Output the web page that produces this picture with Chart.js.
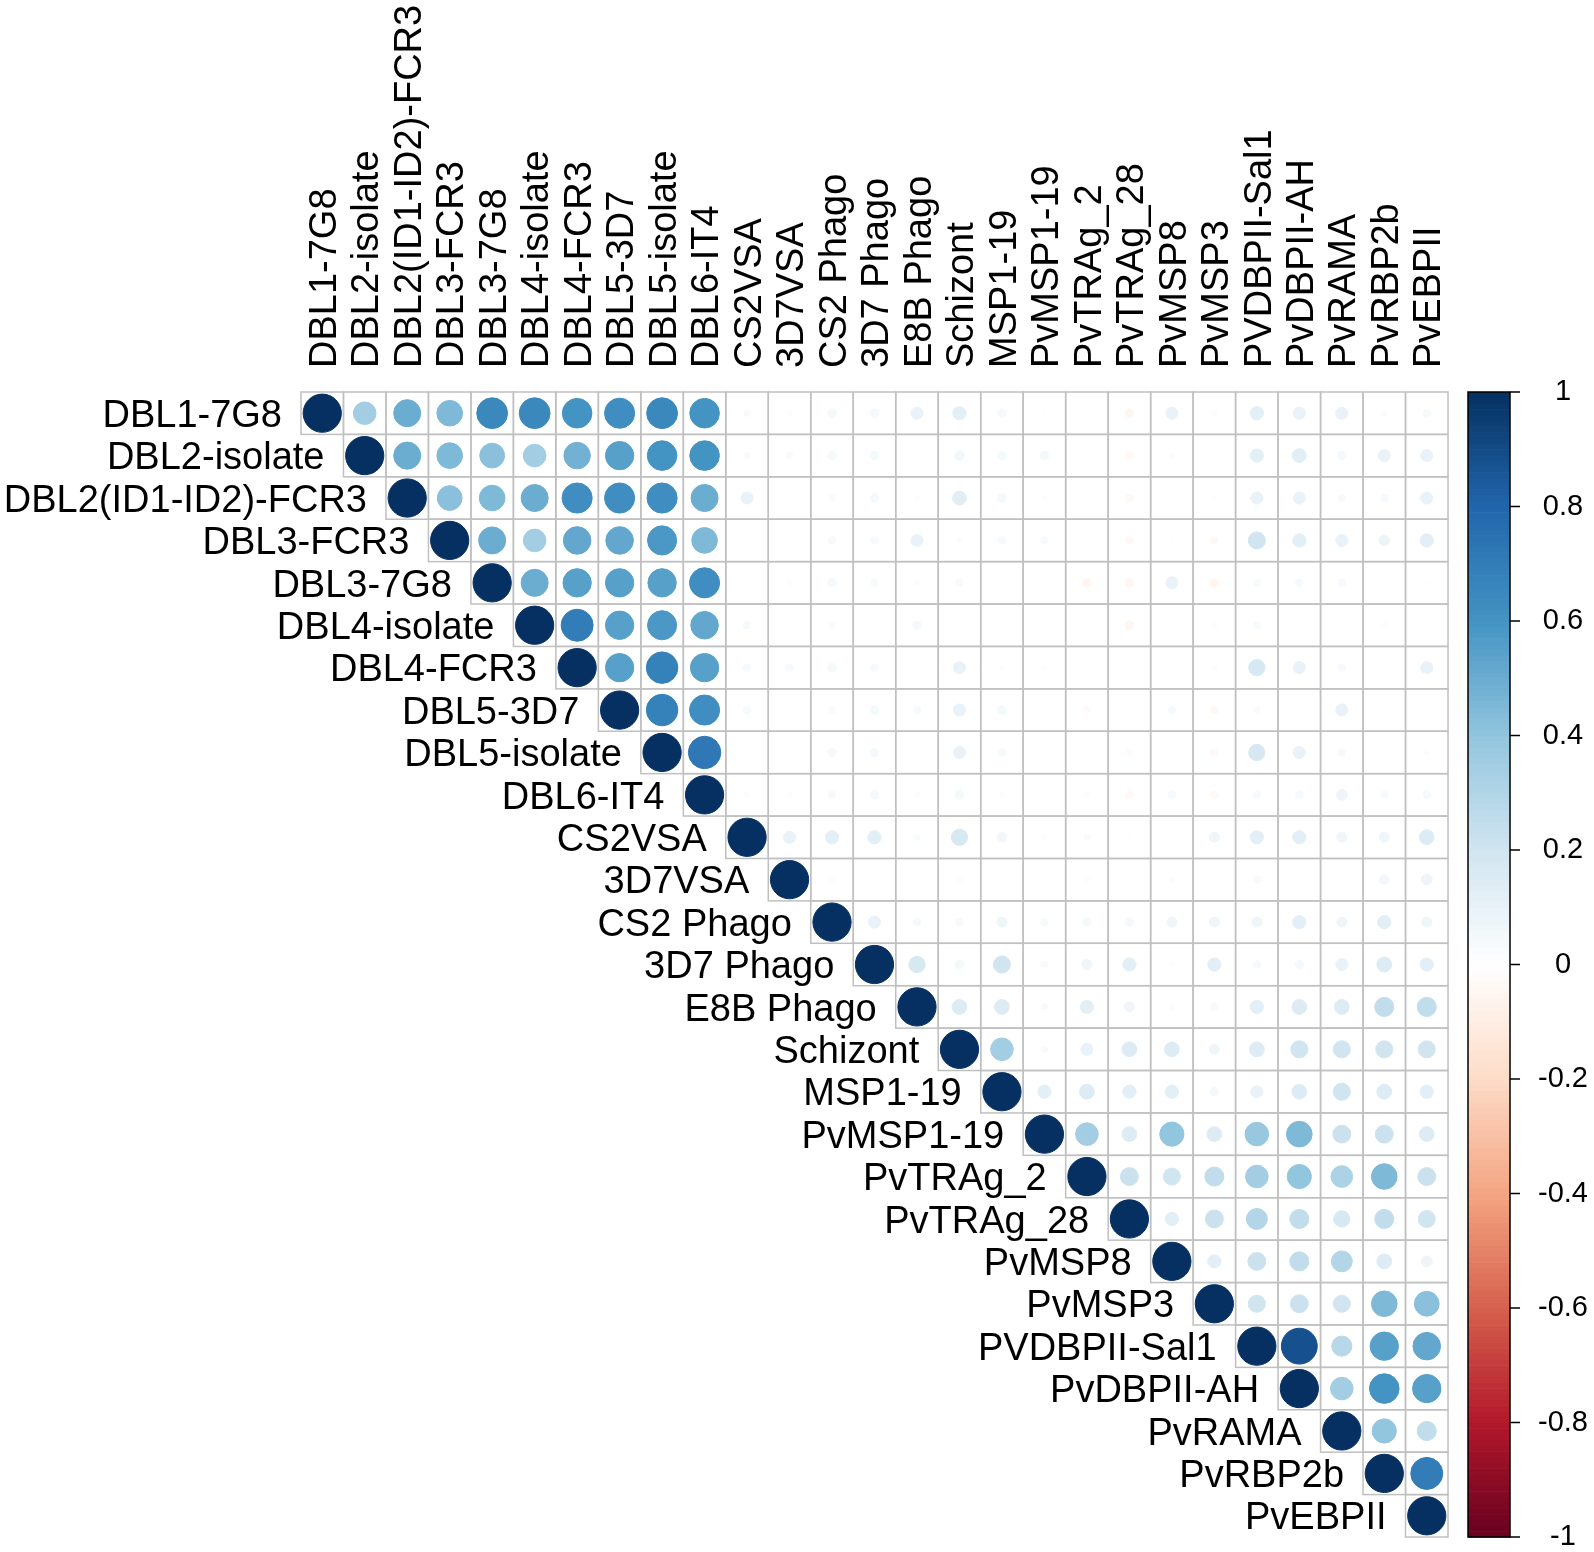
<!DOCTYPE html>
<html>
<head>
<meta charset="utf-8">
<script src="https://cdn.jsdelivr.net/npm/chart.js@4.4.0/dist/chart.umd.min.js"></script>
<style>
html,body{margin:0;padding:0;background:#fff;}
#wrap{width:1594px;height:1552px;}
</style>
</head>
<body>
<div id="wrap"><canvas id="corr" width="1594" height="1552"></canvas></div>
<script>
/* ================= DATA ================= */
const vars=["DBL1-7G8","DBL2-isolate","DBL2(ID1-ID2)-FCR3","DBL3-FCR3","DBL3-7G8","DBL4-isolate","DBL4-FCR3","DBL5-3D7","DBL5-isolate","DBL6-IT4","CS2VSA","3D7VSA","CS2 Phago","3D7 Phago","E8B Phago","Schizont","MSP1-19","PvMSP1-19","PvTRAg_2","PvTRAg_28","PvMSP8","PvMSP3","PVDBPII-Sal1","PvDBPII-AH","PvRAMA","PvRBP2b","PvEBPII"];

/* upper triangle, each row starts right after the diagonal */
const upperRows=[
[0.35,0.5,0.45,0.65,0.65,0.6,0.62,0.65,0.6,0.03,0.02,0.05,0.05,0.1,0.12,0.05,0.01,0.01,-0.05,0.1,-0.02,0.12,0.1,0.1,0.02,0.04],
[0.5,0.45,0.42,0.35,0.48,0.55,0.6,0.6,0.03,0.03,0.05,0.05,0.01,0.06,0.05,0.05,0.01,-0.04,0.02,0.01,0.12,0.13,0.05,0.1,0.1],
[0.42,0.45,0.5,0.62,0.62,0.62,0.5,0.1,0.01,0.03,0.05,0.02,0.13,0.05,0.02,0.01,-0.04,0.01,-0.01,0.1,0.1,0.04,0.04,0.1],
[0.5,0.35,0.52,0.52,0.58,0.45,0.01,0.01,0.04,0.04,0.1,0.02,0.04,0.04,0.01,-0.04,0.01,-0.04,0.2,0.12,0.1,0.08,0.12],
[0.5,0.55,0.55,0.55,0.62,0.01,0.02,0.05,0.04,0.02,0.04,0.01,0.01,-0.05,-0.05,0.1,-0.05,0.04,0.04,0.04,0.01,0.01],
[0.7,0.55,0.58,0.52,0.04,0.01,0.03,0.01,0.05,0.01,0,0,0.01,-0.05,0.01,-0.02,0.04,0.01,0.01,-0.02,0],
[0.55,0.68,0.55,0.04,0.04,0.05,0.04,0.01,0.1,0.02,0.02,0.01,0,0,-0.02,0.18,0.1,0.04,0.01,0.1],
[0.68,0.62,0.04,0.01,0.03,0.05,0.04,0.1,0.05,0,-0.03,0.01,0.04,-0.04,0.03,0.01,0.1,0.01,0.01],
[0.72,0.01,0.01,0.05,0.05,0.01,0.1,0.04,0,0.01,-0.03,0.01,-0.04,0.18,0.1,0.04,0.01,0.02],
[0.02,0.02,0.04,0.05,0.02,0.05,0.02,0,0.02,-0.04,0.04,-0.04,0.04,0.04,0.08,0.04,0.04],
[0.1,0.12,0.12,0.03,0.18,0.06,-0.02,0.03,0.01,0,0.07,0.12,0.12,0.07,0.07,0.15],
[0.02,0.01,0.01,0.02,0.01,0.01,0.02,0.01,-0.02,0,0.04,0.01,0.01,0.06,0.08],
[0.1,0.04,0.04,0.07,0.04,0.05,0.05,0.07,0.07,0.07,0.12,0.07,0.12,0.07],
[0.18,0.05,0.2,0.03,0.07,0.12,0.02,0.12,0.04,0.05,0.1,0.15,0.12],
[0.15,0.15,0.03,0.12,0.07,0.02,0.04,0.12,0.15,0.15,0.25,0.25],
[0.35,0.03,0.1,0.15,0.15,0.07,0.15,0.2,0.2,0.2,0.2],
[0.12,0.15,0.12,0.12,0.05,0.1,0.15,0.2,0.15,0.12],
[0.35,0.15,0.4,0.15,0.38,0.45,0.22,0.22,0.15],
[0.22,0.2,0.25,0.35,0.4,0.32,0.45,0.22],
[0.12,0.22,0.3,0.25,0.18,0.25,0.2],
[0.12,0.22,0.25,0.3,0.15,0.08],
[0.2,0.22,0.2,0.45,0.42],
[0.88,0.28,0.55,0.52],
[0.35,0.6,0.55],
[0.4,0.25],
[0.7]
];

const legendTicks=[1,0.8,0.6,0.4,0.2,0,-0.2,-0.4,-0.6,-0.8,-1];

/* ================= COLOURS (RdBu) ================= */
const ramp=["#67001F","#B2182B","#D6604D","#F4A582","#FDDBC7","#FFFFFF","#D1E5F0","#92C5DE","#4393C3","#2166AC","#053061"];
const hex=h=>[1,3,5].map(i=>parseInt(h.substr(i,2),16));
function corrColor(v){
const t=(Math.max(-1,Math.min(1,v))+1)/2*(ramp.length-1);
const i=Math.min(ramp.length-2,Math.floor(t)),f=t-i;
const a=hex(ramp[i]),b=hex(ramp[i+1]);
const c=a.map((x,k)=>Math.round(x+(b[k]-x)*f));
return "rgb("+c.join(",")+")";
}

/* ================= POINTS ================= */
const pts=[];
vars.forEach((_,i)=>{
pts.push({x:i+1,y:i+1,v:1});
(upperRows[i]||[]).forEach((v,k)=>pts.push({x:i+2+k,y:i+1,v}));
});

const FONT='"Liberation Sans", Arial, sans-serif';
const GRID="#c0c0c0";

function cellSize(chart){
const s=chart.scales.x;
return s.getPixelForValue(1)-s.getPixelForValue(0);
}

/* ================= PLUGIN: grid, labels, legend ================= */
const corrDecor={
id:"corrDecor",
beforeDatasetsDraw(chart){
const ctx=chart.ctx,x=chart.scales.x,y=chart.scales.y;
ctx.save();
ctx.strokeStyle=GRID;ctx.lineWidth=1.5;
vars.forEach((_,i)=>{
for(let j=i;j<vars.length;j++){
const x0=x.getPixelForValue(j+0.5),x1=x.getPixelForValue(j+1.5);
const y0=y.getPixelForValue(i+0.5),y1=y.getPixelForValue(i+1.5);
ctx.strokeRect(x0,y0,x1-x0,y1-y0);
}
});
ctx.restore();
},
afterDatasetsDraw(chart){
const ctx=chart.ctx,x=chart.scales.x,y=chart.scales.y,cb=chart.scales.cb;
const fs=38;
ctx.save();
ctx.fillStyle="#000";
ctx.font=fs+"px "+FONT;

/* row labels next to the diagonal */
ctx.textAlign="right";ctx.textBaseline="alphabetic";
vars.forEach((n,i)=>{
ctx.fillText(n,x.getPixelForValue(i+0.5)-19,y.getPixelForValue(i+1)+fs*0.36);
});

/* column labels on top, rotated */
ctx.textAlign="left";
vars.forEach((n,j)=>{
ctx.save();
ctx.translate(x.getPixelForValue(j+1)+fs*0.36,chart.chartArea.top-24);
ctx.rotate(-Math.PI/2);
ctx.fillText(n,0,0);
ctx.restore();
});

/* colour legend */
const bx0=1468,bx1=1510;
const steps=200;
for(let k=0;k<steps;k++){
const v0=-1+2*k/steps,v1=-1+2*(k+1)/steps;
const p0=cb.getPixelForValue(v0),p1=cb.getPixelForValue(v1);
ctx.fillStyle=corrColor((v0+v1)/2);
ctx.fillRect(bx0,p1,bx1-bx0,p0-p1+0.6);
}
ctx.strokeStyle="#000";ctx.lineWidth=1.5;
ctx.strokeRect(bx0,cb.getPixelForValue(1),bx1-bx0,cb.getPixelForValue(-1)-cb.getPixelForValue(1));
ctx.font="29px "+FONT;ctx.fillStyle="#000";
ctx.textAlign="center";ctx.textBaseline="middle";
legendTicks.forEach(t=>{
const py=cb.getPixelForValue(t);
ctx.beginPath();ctx.moveTo(bx1,py);ctx.lineTo(bx1+10,py);ctx.stroke();
ctx.fillText(String(t),1563,py);
});
ctx.restore();
}
};

/* ================= CHART ================= */
new Chart(document.getElementById("corr"),{
type:"scatter",
data:{datasets:[{
data:pts,
pointStyle:"circle",
pointRadius:c=>0.45*cellSize(c.chart)*Math.sqrt(Math.abs(c.raw.v)),
pointHoverRadius:c=>0.45*cellSize(c.chart)*Math.sqrt(Math.abs(c.raw.v)),
pointBackgroundColor:c=>corrColor(c.raw.v),
pointBorderColor:c=>corrColor(c.raw.v),
pointBorderWidth:1
}]},
options:{
responsive:false,
animation:false,
layout:{padding:{left:301,right:146,top:392,bottom:15}},
plugins:{legend:{display:false},tooltip:{enabled:false}},
scales:{
x:{type:"linear",min:0.5,max:vars.length+0.5,display:false},
y:{type:"linear",min:0.5,max:vars.length+0.5,reverse:true,display:false},
cb:{type:"linear",min:-1,max:1,display:false,position:"right"}
}
},
plugins:[corrDecor]
});
</script>
</body>
</html>
